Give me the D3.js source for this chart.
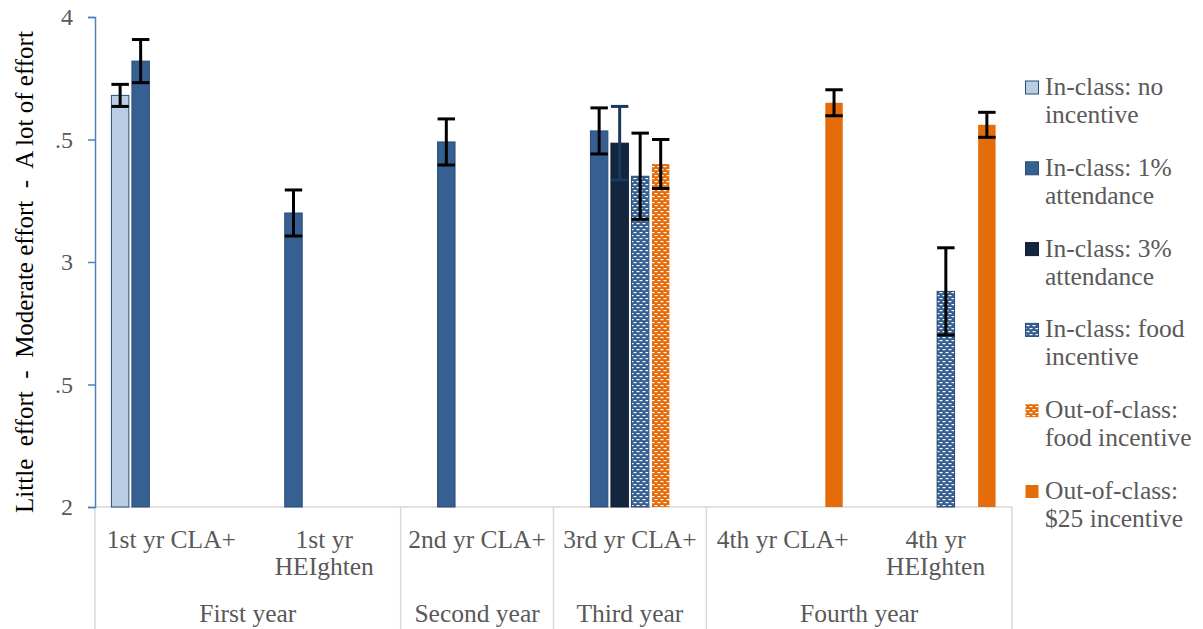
<!DOCTYPE html>
<html>
<head>
<meta charset="utf-8">
<script src="https://cdn.jsdelivr.net/npm/d3@7"></script>
<style>
  body { margin: 0; background: #fff; }
  svg text { font-family: "Liberation Serif", "Times New Roman", serif; fill: #595959; }
</style>
</head>
<body>
<div id="chart"></div>
<script>
// Effort ratings by test administration and incentive condition

const categories = ['1st yr CLA+', '1st yr HEIghten', '2nd yr CLA+', '3rd yr CLA+', '4th yr CLA+', '4th yr HEIghten'];
const categoryLines = [['1st yr CLA+'], ['1st yr', 'HEIghten'], ['2nd yr CLA+'], ['3rd yr CLA+'], ['4th yr CLA+'], ['4th yr', 'HEIghten']];
const groups = ['First year', 'Second year', 'Third year', 'Fourth year'];
const groupSpans = [2, 1, 1, 2];

const seriesNames = [
    ['In-class: no', 'incentive'],
    ['In-class: 1%', 'attendance'],
    ['In-class: 3%', 'attendance'],
    ['In-class: food', 'incentive'],
    ['Out-of-class:', 'food incentive'],
    ['Out-of-class:', '$25 incentive']
];

// means per category (null = not administered)
const noIncentive     = [3.68, null, null, null, null, null];
const attendance1     = [3.82, 3.20, 3.49, 3.535, null, null];
const attendance3     = [null, null, null, 3.485, null, null];
const foodInClass     = [null, null, null, 3.35, null, 2.88];
const foodOutOfClass  = [null, null, null, 3.40, null, null];
const incentive25     = [null, null, null, null, 3.65, 3.56];

// error bar half-widths
const errNoIncentive    = [0.045, null, null, null, null, null];
const errAttendance1    = [0.088, 0.094, 0.094, 0.094, null, null];
const errAttendance3    = [null, null, null, 0.15, null, null];
const errFoodInClass    = [null, null, null, 0.176, null, 0.178];
const errFoodOutOfClass = [null, null, null, 0.10, null, null];
const errIncentive25    = [null, null, null, null, 0.053, 0.051];

const yTicks = [2, 2.5, 3, 3.5, 4];
const yTickLabels = ['2', '.5', '3', '.5', '4'];

const seriesValues = [noIncentive, attendance1, attendance3, foodInClass, foodOutOfClass, incentive25];
const seriesErrors = [errNoIncentive, errAttendance1, errAttendance3, errFoodInClass, errFoodOutOfClass, errIncentive25];

const fills = ['#b9cde5', '#366092', '#14263f', 'url(#dash-blue)', 'url(#dash-orange)', '#e46c0a'];
const strokes = ['#2c4d75', '#2a4b73', '#0f1d31', '#2a4b73', 'none', 'none'];
const errColors = ['#000', '#000', '#1c3760', '#000', '#000', '#000'];

const width = 1203, height = 629;
const plot = { left: 95, right: 1012, top: 17, bottom: 507 };

const svg = d3.select('#chart').append('svg')
    .attr('width', width)
    .attr('height', height);

// Patterns for food incentive bars
const defs = svg.append('defs');
[['dash-blue', '#366092'], ['dash-orange', '#e46c0a']].forEach(([id, color]) => {
    const p = defs.append('pattern')
        .attr('id', id)
        .attr('patternUnits', 'userSpaceOnUse')
        .attr('width', 6)
        .attr('height', 6);
    p.append('rect').attr('width', 6).attr('height', 6).attr('fill', color);
    p.append('rect').attr('x', 0.5).attr('y', 1).attr('width', 3).attr('height', 1.2).attr('fill', '#fff');
    p.append('rect').attr('x', 3.5).attr('y', 4).attr('width', 3).attr('height', 1.2).attr('fill', '#fff');
    p.append('rect').attr('x', -2.5).attr('y', 4).attr('width', 3).attr('height', 1.2).attr('fill', '#fff');
});

// Scales
const x0 = d3.scaleBand()
    .domain(categories)
    .range([plot.left, plot.right]);

const x1 = d3.scaleBand()
    .domain(d3.range(seriesNames.length))
    .range([0, x0.bandwidth()])
    .paddingInner(0.15)
    .paddingOuter(0.8);

const y = d3.scaleLinear()
    .domain([2, 4])
    .range([plot.bottom, plot.top]);

// Category axis lines
svg.append('line')
    .attr('x1', plot.left).attr('x2', plot.right)
    .attr('y1', plot.bottom).attr('y2', plot.bottom)
    .attr('stroke', '#d9d9d9').attr('stroke-width', 1.5);

let idx = 0;
const boundaries = [plot.left];
groupSpans.forEach(span => {
    idx += span;
    boundaries.push(x0(categories[idx - 1]) + x0.bandwidth());
});
boundaries.forEach(bx => {
    svg.append('line')
        .attr('x1', bx).attr('x2', bx)
        .attr('y1', plot.bottom).attr('y2', height)
        .attr('stroke', '#d9d9d9').attr('stroke-width', 1.5);
});

// Category labels
categories.forEach((c, i) => {
    const t = svg.append('text')
        .attr('x', x0(c) + x0.bandwidth() / 2)
        .attr('y', 548)
        .attr('text-anchor', 'middle')
        .style('font-size', '25.5px');
    categoryLines[i].forEach((line, j) => {
        t.append('tspan')
            .attr('x', x0(c) + x0.bandwidth() / 2)
            .attr('dy', j === 0 ? 0 : 27)
            .text(line);
    });
});

// Group labels
groups.forEach((g, i) => {
    const cx = (boundaries[i] + boundaries[i + 1]) / 2;
    svg.append('text')
        .attr('x', cx)
        .attr('y', 622)
        .attr('text-anchor', 'middle')
        .style('font-size', '25.5px')
        .text(g);
});

// Bars
seriesValues.forEach((vals, s) => {
    const data = vals.map((v, i) => ({ cat: categories[i], v, e: seriesErrors[s][i] }))
        .filter(d => d.v !== null);

    svg.append('g').selectAll('rect')
        .data(data)
        .enter()
        .append('rect')
        .attr('x', d => x0(d.cat) + x1(s))
        .attr('y', d => y(d.v))
        .attr('width', x1.bandwidth())
        .attr('height', d => y(2) - y(d.v))
        .attr('fill', fills[s])
        .attr('stroke', strokes[s])
        .attr('stroke-width', 1);
});

// Error bars (drawn on top)
seriesValues.forEach((vals, s) => {
    const data = vals.map((v, i) => ({ cat: categories[i], v, e: seriesErrors[s][i] }))
        .filter(d => d.v !== null);
    const g = svg.append('g')
        .attr('stroke', errColors[s])
        .attr('stroke-width', 3);
    data.forEach(d => {
        const cx = x0(d.cat) + x1(s) + x1.bandwidth() / 2;
        const hw = x1.bandwidth() / 2;
        g.append('line').attr('x1', cx).attr('x2', cx).attr('y1', y(d.v + d.e)).attr('y2', y(d.v - d.e));
        g.append('line').attr('x1', cx - hw).attr('x2', cx + hw).attr('y1', y(d.v + d.e)).attr('y2', y(d.v + d.e));
        g.append('line').attr('x1', cx - hw).attr('x2', cx + hw).attr('y1', y(d.v - d.e)).attr('y2', y(d.v - d.e));
    });
});

// Y axis
const yAxis = d3.axisLeft(y)
    .tickValues(yTicks)
    .tickFormat((d, i) => yTickLabels[i])
    .tickSize(7)
    .tickPadding(15);

const yAxisG = svg.append('g')
    .attr('transform', `translate(${plot.left},0)`)
    .call(yAxis);
yAxisG.select('.domain').attr('stroke', '#4f81bd').attr('stroke-width', 1.5);
yAxisG.selectAll('.tick line').attr('stroke', '#4f81bd').attr('stroke-width', 1.5);
yAxisG.selectAll('.tick text')
    .style('font-size', '24px')
    .style('font-family', '"Liberation Serif", serif')
    .style('fill', '#595959');

// Y axis title
svg.append('text')
    .attr('transform', `translate(33, ${272}) rotate(-90)`)
    .attr('text-anchor', 'middle')
    .style('font-size', '25px')
    .style('white-space', 'pre')
    .style('fill', '#000')
    .text('Little  effort  -  Moderate effort  -  A lot of effort');

// Legend
const legend = svg.append('g');
seriesNames.forEach((lines, i) => {
    const top = 81 + i * 80.8;
    legend.append('rect')
        .attr('x', 1025.5)
        .attr('y', top)
        .attr('width', 13)
        .attr('height', 13)
        .attr('fill', fills[i])
        .attr('stroke', strokes[i])
        .attr('stroke-width', 1);
    lines.forEach((line, j) => {
        legend.append('text')
            .attr('x', 1045)
            .attr('y', top + 14 + j * 28)
            .style('font-size', '25.5px')
            .text(line);
    });
});
</script>
</body>
</html>
